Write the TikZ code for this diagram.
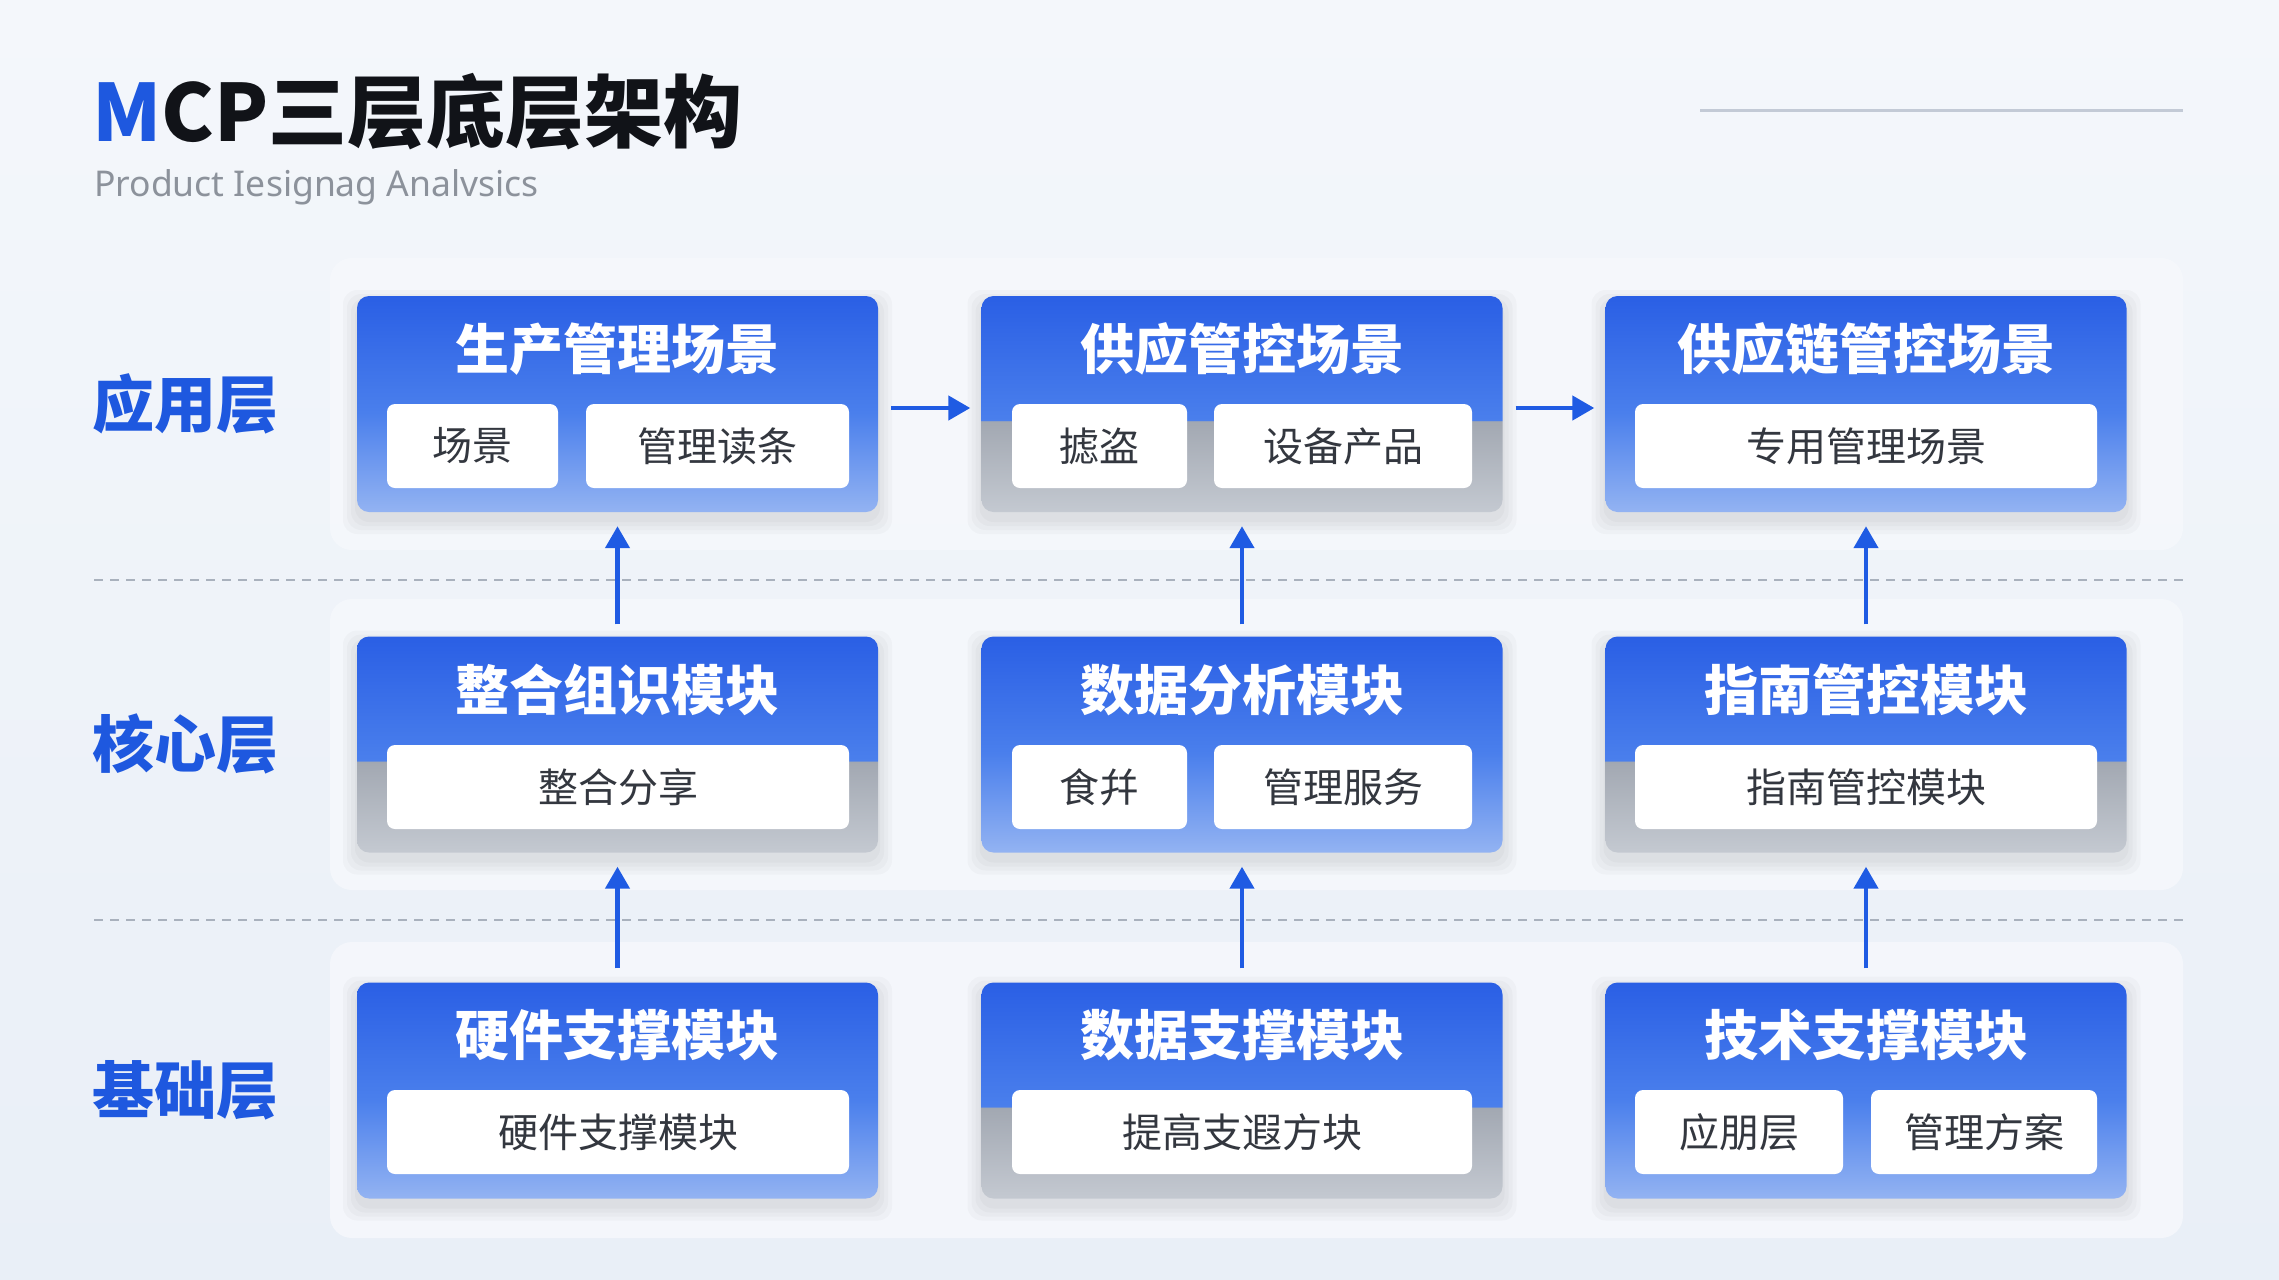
\documentclass[tikz,border=0pt]{standalone}
\usepackage{fontspec}
\setmainfont{Noto Sans}
\newfontfamily\cjk{Noto Sans CJK SC}
\usetikzlibrary{arrows.meta}
\definecolor{bgA}{HTML}{F4F7FB}
\definecolor{bgB}{HTML}{E9EFF7}
\definecolor{panelc}{HTML}{F6F8FC}
\definecolor{blueTop}{HTML}{2A5FE5}
\definecolor{blueMid}{HTML}{4A7FEC}
\definecolor{blueBot}{HTML}{93B3F2}
\definecolor{grayTop}{HTML}{A2A8B2}
\definecolor{grayBot}{HTML}{C4C9D1}
\definecolor{dashc}{HTML}{A9B1BD}
\definecolor{arrowc}{HTML}{1F5BE3}
\definecolor{labelc}{HTML}{1E58DF}
\definecolor{titlec}{HTML}{111318}
\definecolor{subc}{HTML}{8C929B}
\definecolor{subtxt}{HTML}{33373F}
\definecolor{linec}{HTML}{C3CAD6}
\pgfdeclareverticalshading{bluecard}{100bp}{color(0bp)=(blueBot); color(25bp)=(blueBot); color(48bp)=(blueMid); color(75bp)=(blueTop); color(100bp)=(blueTop)}
\pgfdeclareverticalshading{graycard}{100bp}{color(0bp)=(grayBot); color(25bp)=(grayBot); color(46bp)=(grayTop); color(46.3bp)=(blueMid); color(75bp)=(blueTop); color(100bp)=(blueTop)}
\tikzset{
  card/.style={shade, shading=#1, rounded corners=12pt, minimum width=521pt, minimum height=216pt, inner sep=0pt},
  cardtitle/.style={text=white, font=\cjk\bfseries\fontsize{54}{60}\selectfont, inner sep=0pt},
  subbox/.style={fill=white, rounded corners=8pt, minimum height=84pt, inner sep=0pt, text=subtxt, font=\cjk\fontsize{40}{46}\selectfont},
  layerlabel/.style={text=labelc, font=\cjk\bfseries\fontsize{62}{68}\selectfont, anchor=west, inner sep=0pt},
  arr/.style={draw=arrowc, line width=4.5pt, -{Triangle[width=24pt,length=22pt]}},
  divider/.style={draw=dashc, line width=2pt, dash pattern=on 9pt off 7pt},
  panel/.style={fill=panelc, rounded corners=22pt, opacity=0.85}
}
\begin{document}
\begin{tikzpicture}[x=1pt,y=-1pt]
\useasboundingbox (0,0) rectangle (2279,1280);
\shade[top color=bgA, bottom color=bgB] (0,0) rectangle (2279,1280);
% layer panels
\fill[panel] (330,258) rectangle (2183,550);
\fill[panel] (330,599) rectangle (2183,890);
\fill[panel] (330,942) rectangle (2183,1238);
% title
\node[anchor=west, inner sep=0pt, text=titlec, font=\cjk\bfseries\fontsize{79}{85}\selectfont] (title) at (92,112) {\textcolor{labelc}{M}CP三层底层架构};
\node[anchor=west, inner sep=0pt, text=subc, font=\fontsize{35.5}{40}\selectfont] (subtitle) at (94,187) {Product Iesignag Analvsics};
\coordinate (la) at (1700,110);
\coordinate (lb) at (2183,110);
\draw[linec, line width=3pt] (la) -- (lb);
% dividers
\coordinate (d1a) at (94,580); \coordinate (d1b) at (2183,580);
\coordinate (d2a) at (94,920); \coordinate (d2b) at (2183,920);
\draw[divider] (d1a) -- (d1b);
\draw[divider] (d2a) -- (d2b);
% layer labels
\node[layerlabel] (L1) at (92,404) {应用层};
\node[layerlabel] (L2) at (92,744) {核心层};
\node[layerlabel] (L3) at (92,1090) {基础层};
% shadows
\foreach \cx in {617.5,1242,1866}{
  \foreach \cy in {404,744.5,1090.5}{
    \foreach \e in {2,6,10,14}{
      \fill[black, opacity=0.025, rounded corners=14pt] (\cx-260.5-\e,\cy-108-\e+8) rectangle (\cx+260.5+\e,\cy+108+\e+8);
    }
  }
}
% cards
\node[card=bluecard] (b11) at (617.5,404) {};
\node[card=graycard] (b12) at (1242,404) {};
\node[card=bluecard] (b13) at (1866,404) {};
\node[card=graycard] (b21) at (617.5,744.5) {};
\node[card=bluecard] (b22) at (1242,744.5) {};
\node[card=graycard] (b23) at (1866,744.5) {};
\node[card=bluecard] (b31) at (617.5,1090.5) {};
\node[card=graycard] (b32) at (1242,1090.5) {};
\node[card=bluecard] (b33) at (1866,1090.5) {};
% titles
\node[cardtitle] (t11) at (617.5,349) {生产管理场景};
\node[cardtitle] (t12) at (1242,349) {供应管控场景};
\node[cardtitle] (t13) at (1866,349) {供应链管控场景};
\node[cardtitle] (t21) at (617.5,690) {整合组识模块};
\node[cardtitle] (t22) at (1242,690) {数据分析模块};
\node[cardtitle] (t23) at (1866,690) {指南管控模块};
\node[cardtitle] (t31) at (617.5,1035) {硬件支撑模块};
\node[cardtitle] (t32) at (1242,1035) {数据支撑模块};
\node[cardtitle] (t33) at (1866,1035) {技术支撑模块};
% sub boxes
\node[subbox, minimum width=171pt] (s11a) at (472.5,446) {场景};
\node[subbox, minimum width=263pt] (s11b) at (717.5,446) {管理读条};
\node[subbox, minimum width=175pt] (s12a) at (1099.5,446) {摅盗};
\node[subbox, minimum width=258pt] (s12b) at (1343,446) {设备产品};
\node[subbox, minimum width=462pt] (s13) at (1866,446) {专用管理场景};
\node[subbox, minimum width=462pt] (s21) at (618,787) {整合分享};
\node[subbox, minimum width=175pt] (s22a) at (1099.5,787) {食幷};
\node[subbox, minimum width=258pt] (s22b) at (1343,787) {管理服务};
\node[subbox, minimum width=462pt] (s23) at (1866,787) {指南管控模块};
\node[subbox, minimum width=462pt] (s31) at (618,1132) {硬件支撑模块};
\node[subbox, minimum width=460pt] (s32) at (1242,1132) {提高支遐方块};
\node[subbox, minimum width=208pt] (s33a) at (1739,1132) {应朋层};
\node[subbox, minimum width=226pt] (s33b) at (1984,1132) {管理方案};
% arrows
\draw[arr, shorten <=13pt, shorten >=11pt] ([yshift=-4pt]b11.east) -- ([yshift=-4pt]b12.west);
\draw[arr, shorten <=13pt, shorten >=11pt] ([yshift=-4pt]b12.east) -- ([yshift=-4pt]b13.west);
\draw[arr, shorten <=12pt, shorten >=14pt] (b21.north) -- (b11.south);
\draw[arr, shorten <=12pt, shorten >=14pt] (b22.north) -- (b12.south);
\draw[arr, shorten <=12pt, shorten >=14pt] (b23.north) -- (b13.south);
\draw[arr, shorten <=14pt, shorten >=14pt] (b31.north) -- (b21.south);
\draw[arr, shorten <=14pt, shorten >=14pt] (b32.north) -- (b22.south);
\draw[arr, shorten <=14pt, shorten >=14pt] (b33.north) -- (b23.south);
\end{tikzpicture}
\end{document}
